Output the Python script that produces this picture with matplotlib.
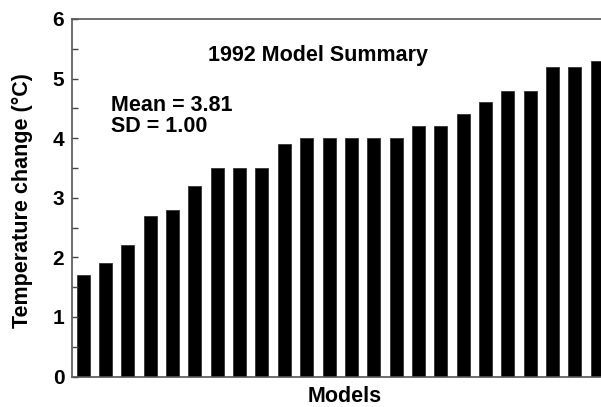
"""1992 model summary: bar chart of temperature change per model."""

import matplotlib
matplotlib.use("Agg")
import matplotlib.pyplot as plt
import numpy as np

plt.rcParams["font.family"] = ["Liberation Sans", "DejaVu Sans"]

# Temperature change per model (degC), sorted ascending
temp_change = [1.7, 1.9, 2.2, 2.7, 2.8, 3.2, 3.5, 3.5, 3.5, 3.9, 4.0, 4.0,
               4.0, 4.0, 4.0, 4.2, 4.2, 4.4, 4.6, 4.8, 4.8, 5.2, 5.2, 5.3]
y_ticks = [0, 1, 2, 3, 4, 5, 6]
title = "1992 Model Summary"
stats_text = "Mean = 3.81\nSD = 1.00"

W, H = 601, 407
fig = plt.figure(figsize=(W / 100, H / 100), dpi=100)

# axes run past the right edge of the figure (the original is cropped there)
left_px, top_px, bottom_px = 72, 19, 376.5
pitch_px = 22.35
n = len(temp_change)
ax = fig.add_axes([left_px / W, (H - bottom_px) / H,
                   n * pitch_px / W, (bottom_px - top_px) / H])

x = np.arange(n)
ax.bar(x, temp_change, width=0.58, color="black", edgecolor="#333333", linewidth=0.6)

ax.set_xlim(-0.5, n - 0.5)
ax.set_ylim(0, 6)
ax.set_yticks(y_ticks)
ax.set_yticks(np.arange(0.5, 6, 1.0), minor=True)
ax.set_xticks([])
ax.tick_params(axis="y", which="both", direction="in", length=4.5, width=1.0,
               color="#444444", labelsize=15, pad=5.5)
for lbl in ax.get_yticklabels():
    lbl.set_fontweight("bold")

for side in ("left", "top", "bottom"):
    ax.spines[side].set_color("#555555")
    ax.spines[side].set_linewidth(1.2)
ax.spines["right"].set_visible(False)

fig.text(317.5 / W, 1 - 55 / H, title, fontsize=15.5, fontweight="bold",
         ha="center", va="center")
fig.text(111 / W, 1 - 95 / H, stats_text, fontsize=15.5, fontweight="bold",
         ha="left", va="top", linespacing=1.0)
fig.text(22 / W, 1 - 201 / H, "Temperature change (°C)", fontsize=15.5,
         fontweight="bold", rotation=90, ha="center", va="center")
fig.text(345 / W, 1 - 397 / H, "Models", fontsize=15.5, fontweight="bold",
         ha="center", va="center")

fig.savefig("out.png", dpi=100)
